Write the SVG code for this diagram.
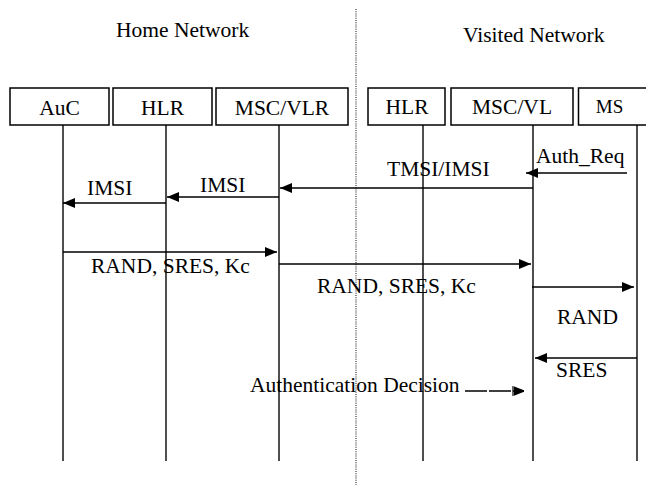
<svg xmlns="http://www.w3.org/2000/svg" width="646" height="485" viewBox="0 0 646 485">
<defs>
<marker id="ah" viewBox="0 0 12 10" refX="12" refY="5" markerWidth="12" markerHeight="10" markerUnits="userSpaceOnUse" orient="auto">
<path d="M0,0 L12,5 L0,10 Z" fill="#000"/>
</marker>
<marker id="ahb" viewBox="0 0 12 10" refX="12" refY="5" markerWidth="12" markerHeight="10" markerUnits="userSpaceOnUse" orient="auto">
<path d="M0,0 L0,10 M2,1 L12,5 L2,9 Z" fill="#000" stroke="#000" stroke-width="1.2"/>
</marker>
</defs>
<style>
text{font-family:"Liberation Serif","Times New Roman",serif;font-size:21.5px;fill:#000}
.box{fill:#fff;stroke:#000;stroke-width:1.5}
.life{stroke:#222;stroke-width:1.6;fill:none}
.msg{stroke:#000;stroke-width:1.5;fill:none;marker-end:url(#ah)}
.sep{stroke:#333;stroke-width:1.2;stroke-dasharray:1,1.2;fill:none}
</style>
<rect width="646" height="485" fill="#fff"/>
<g id="headers">
<text x="116" y="37">Home Network</text>
<text x="463" y="42">Visited Network</text>
<line class="sep" x1="356" y1="9" x2="356" y2="485"/>
</g>
<g id="lifelines">
<line class="life" x1="63" y1="125" x2="63" y2="461"/>
<line class="life" x1="166" y1="125" x2="166" y2="461"/>
<line class="life" x1="279" y1="125" x2="279" y2="461"/>
<line class="life" x1="423" y1="125" x2="423" y2="461"/>
<line class="life" x1="533" y1="125" x2="533" y2="461"/>
<line class="life" x1="637" y1="125" x2="637" y2="461"/>
</g>
<g id="auc"><rect class="box" x="10" y="88" width="99" height="37"/><text x="59.5" y="115" text-anchor="middle">AuC</text></g>
<g id="hlr-home"><rect class="box" x="113" y="88" width="99" height="37"/><text x="162.5" y="115" text-anchor="middle">HLR</text></g>
<g id="msc-vlr"><rect class="box" x="216" y="88" width="132" height="37"/><text x="282" y="115" text-anchor="middle">MSC/VLR</text></g>
<g id="hlr-visited"><rect class="box" x="368" y="88" width="77" height="37"/><text x="407" y="114" text-anchor="middle">HLR</text></g>
<g id="msc-vl"><rect class="box" x="451" y="88" width="122" height="37"/><text x="512" y="114" text-anchor="middle">MSC/VL</text></g>
<g id="ms"><rect class="box" x="578.5" y="88" width="80" height="37"/><text x="609.5" y="113" text-anchor="middle" style="font-size:19px">MS</text></g>
<g id="connectors">
<line class="msg" x1="627" y1="173" x2="526" y2="173"/>
<text x="536" y="163">Auth_Req</text>
<line class="msg" x1="533" y1="188" x2="280" y2="188"/>
<text x="387" y="176">TMSI/IMSI</text>
<line class="msg" x1="279" y1="197" x2="167" y2="197"/>
<text x="200" y="192">IMSI</text>
<line class="msg" x1="166" y1="203" x2="63" y2="203"/>
<text x="87" y="195">IMSI</text>
<line class="msg" x1="63" y1="252" x2="277" y2="252"/>
<text x="91" y="273">RAND, SRES, Kc</text>
<line class="msg" x1="279" y1="264" x2="531" y2="264"/>
<text x="317" y="293">RAND, SRES, Kc</text>
<line class="msg" x1="532" y1="287" x2="634" y2="287"/>
<text x="557" y="324">RAND</text>
<line class="msg" x1="637" y1="358" x2="535" y2="358"/>
<text x="556" y="377">SRES</text>
<text x="250" y="392">Authentication Decision</text>
<line x1="465" y1="391" x2="524" y2="391" stroke="#000" stroke-width="1.5" stroke-dasharray="22,2" marker-end="url(#ahb)"/>
</g>
</svg>
